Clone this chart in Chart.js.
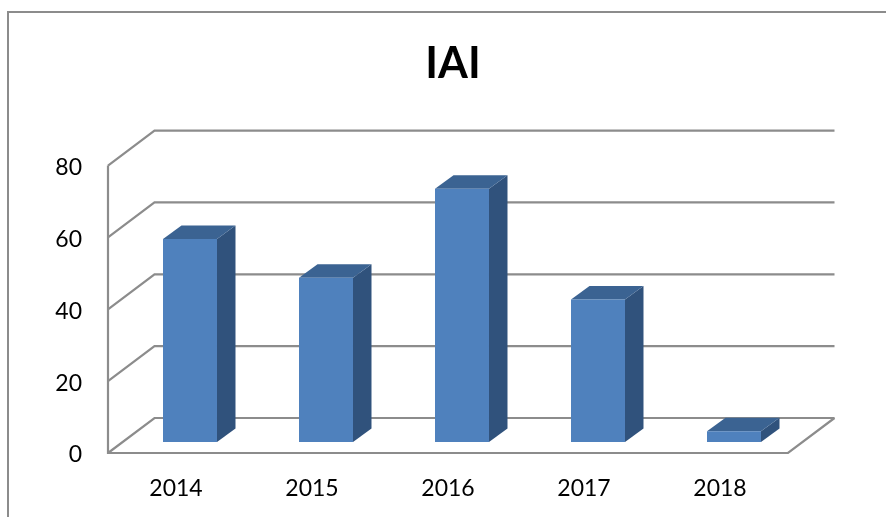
<!DOCTYPE html>
<html>
<head>
<meta charset="utf-8">
<style>html,body{margin:0;padding:0;background:#fff}canvas{display:block}</style>
<script src="https://cdn.jsdelivr.net/npm/chart.js@4"></script>
</head>
<body>
<canvas id="c" width="886" height="517"></canvas>
<script>
const categories = ['2014', '2015', '2016', '2017', '2018'];
const values = [56.5, 45.7, 70.5, 39.7, 3];
const yTicks = [0, 20, 40, 60, 80];
const chartTitle = 'IAI';

const GRID = '#8c8c8c';
const FRONT = '#4f81bd', SIDE = '#30527c', TOP = '#3b6392';
const WALL_DX = 46.5, WALL_DY = 35;
const BAR_DX = 14, BAR_DY = 11, SIDE_DX = 18.5, SIDE_DY = 13.5;

const scene = {
  id: 'scene',
  afterLayout(chart) {
    chart.titleBlock.left += 59; chart.titleBlock.right += 59;
  },
  beforeDraw(chart) {
    const c = chart.ctx;
    c.save();
    c.strokeStyle = GRID; c.lineWidth = 2;
    c.beginPath();
    c.moveTo(8, chart.height); c.lineTo(8, 12); c.lineTo(chart.width, 12);
    c.stroke();
    c.restore();
  },
  beforeDatasetsDraw(chart) {
    const c = chart.ctx, y = chart.scales.y, a = chart.chartArea;
    c.save();
    c.strokeStyle = GRID; c.lineWidth = 2.2; c.lineJoin = 'miter';
    yTicks.forEach(v => {
      const p = y.getPixelForValue(v);
      c.beginPath();
      c.moveTo(a.left, p);
      c.lineTo(a.left + WALL_DX, p - WALL_DY);
      c.lineTo(a.right + WALL_DX, p - WALL_DY);
      c.stroke();
    });
    const base = y.getPixelForValue(0);
    c.beginPath();
    c.moveTo(a.left, a.top);
    c.lineTo(a.left, base);
    c.lineTo(a.right, base);
    c.lineTo(a.right + WALL_DX, base - WALL_DY);
    c.stroke();
    c.restore();

    // side and top faces of each bar, read from the bar elements
    const meta = chart.getDatasetMeta(0);
    c.save();
    c.translate(BAR_DX, -BAR_DY);
    meta.data.forEach(b => {
      const l = b.x - b.width / 2, r = b.x + b.width / 2;
      c.fillStyle = SIDE;
      c.beginPath();
      c.moveTo(r, b.y); c.lineTo(r + SIDE_DX, b.y - SIDE_DY);
      c.lineTo(r + SIDE_DX, b.base - SIDE_DY); c.lineTo(r, b.base);
      c.closePath(); c.fill();
      c.fillStyle = TOP;
      c.beginPath();
      c.moveTo(l, b.y); c.lineTo(l + SIDE_DX, b.y - SIDE_DY);
      c.lineTo(r + SIDE_DX, b.y - SIDE_DY); c.lineTo(r, b.y);
      c.closePath(); c.fill();
    });
    c.restore();
  },
  beforeDatasetDraw(chart) {
    chart.ctx.save();
    chart.ctx.translate(BAR_DX, -BAR_DY);
  },
  afterDatasetDraw(chart) {
    chart.ctx.restore();
  }
};

new Chart(document.getElementById('c'), {
  type: 'bar',
  data: {
    labels: categories,
    datasets: [{
      data: values,
      backgroundColor: FRONT,
      borderWidth: 0,
      clip: false,
      barPercentage: 0.397,
      categoryPercentage: 1
    }]
  },
  plugins: [scene],
  options: {
    responsive: false,
    animation: false,
    layout: { padding: { right: 98 } },
    plugins: {
      legend: { display: false },
      tooltip: { enabled: false },
      title: {
        display: true,
        text: chartTitle,
        color: '#000',
        font: { family: 'Lato', size: 43, weight: 'bold', lineHeight: 1.2 },
        padding: { top: 38, bottom: 76 }
      }
    },
    scales: {
      x: {
        grid: { display: false, drawTicks: false },
        border: { display: false },
        afterFit(s) { s.height = 64; },
        ticks: { color: '#000', padding: 22, maxRotation: 0, font: { family: 'Lato', size: 23 } }
      },
      y: {
        min: 0, max: 80,
        grid: { display: false, drawTicks: false },
        border: { display: false },
        afterFit(s) { s.width = 108; },
        afterBuildTicks(s) { s.ticks = yTicks.map(v => ({ value: v })); },
        ticks: { color: '#000', padding: 26, labelOffset: 2, font: { family: 'Lato', size: 23 } }
      }
    }
  }
});
</script>
</body>
</html>
